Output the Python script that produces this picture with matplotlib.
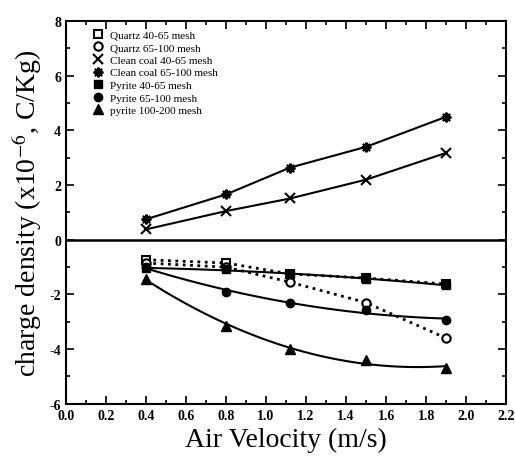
import numpy as np
import matplotlib
matplotlib.use("Agg")
import matplotlib.pyplot as plt
from matplotlib.ticker import MultipleLocator

plt.rcParams['font.family'] = ['Liberation Serif', 'DejaVu Serif']
plt.rcParams['mathtext.fontset'] = 'stix'

# ── Data ───────────────────────────────────────────────
velocity = [0.4, 0.8, 1.12, 1.5, 1.9]

quartz_40_65 = [-0.73, -0.85, -1.25, -1.40, -1.62]
quartz_65_100 = [-0.85, -1.00, -1.55, -2.30, -3.60]
coal_40_65 = [0.38, 1.05, 1.51, 2.20, 3.18]
coal_65_100 = [0.75, 1.66, 2.64, 3.40, 4.50]
pyrite_40_65 = [-1.05, -1.07, -1.25, -1.45, -1.65]
pyrite_65_100 = [-1.00, -1.92, -2.32, -2.58, -2.93]
pyrite_100_200 = [-1.42, -3.15, -4.00, -4.40, -4.68]

labels = ['Quartz 40-65 mesh', 'Quartz 65-100 mesh', 'Clean coal 40-65 mesh',
          'Clean coal 65-100 mesh', 'Pyrite 40-65 mesh', 'Pyrite 65-100 mesh',
          'pyrite 100-200 mesh']

fig = plt.figure(figsize=(5.15, 4.6), dpi=100)
ax = fig.add_axes([0.128, 0.12, 0.855, 0.832])

x = np.array(velocity)
xs = np.linspace(x.min(), x.max(), 100)

# quartz: dotted connecting lines
ax.plot(x, quartz_40_65, ls=':', lw=2, color='black')
ax.plot(x, quartz_65_100, ls=':', lw=2, color='black')
# clean coal: solid segments
ax.plot(x, coal_40_65, ls='-', lw=1.5, color='black')
ax.plot(x, coal_65_100, ls='-', lw=1.5, color='black')
# pyrite: smooth fitted curves
for series in [pyrite_40_65, pyrite_65_100, pyrite_100_200]:
    coef = np.polyfit(x, series, 2)
    ax.plot(xs, np.polyval(coef, xs), ls='-', lw=1.5, color='black')

ms = 6
h1, = ax.plot(x, quartz_40_65, 's', mfc='white', mec='black', mew=1.5, ms=ms, ls='none')
h2, = ax.plot(x, quartz_65_100, 'o', mfc='white', mec='black', mew=1.5, ms=ms, ls='none')
h3, = ax.plot(x, coal_40_65, 'x', color='black', mew=1.5, ms=ms + 1, ls='none')
h4, = ax.plot(x, coal_65_100, marker=(8, 2, 0), color='black', mew=1.5, ms=ms + 1, ls='none')
h5, = ax.plot(x, pyrite_40_65, 's', color='black', ms=ms, ls='none')
h6, = ax.plot(x, pyrite_65_100, 'o', color='black', ms=ms, ls='none')
h7, = ax.plot(x, pyrite_100_200, '^', color='black', ms=ms + 1, ls='none')

ax.axhline(0, color='black', lw=1.8)

ax.set_xlim(0.0, 2.2)
ax.set_ylim(-6, 8)
ax.xaxis.set_major_locator(MultipleLocator(0.2))
ax.xaxis.set_minor_locator(MultipleLocator(0.1))
ax.yaxis.set_major_locator(MultipleLocator(2))
ax.yaxis.set_minor_locator(MultipleLocator(1))
ax.tick_params(which='both', direction='in', top=True, right=True, width=1.2)
ax.tick_params(which='major', length=6, labelsize=10)
ax.tick_params(which='minor', length=3)
ax.set_xticklabels([f'{v:.1f}' for v in ax.get_xticks()], fontweight='bold')
ax.set_yticklabels([f'{int(v)}' for v in ax.get_yticks()], fontweight='bold')
for s in ax.spines.values():
    s.set_linewidth(1.5)

ax.set_xlabel('Air Velocity (m/s)', fontsize=20)
ax.set_ylabel(r'charge density (x10$^{-6}$, C/Kg)', fontsize=20, labelpad=4)

ax.legend([h1, h2, h3, h4, h5, h6, h7], labels, loc='upper left', frameon=False,
          fontsize=8, handlelength=1.0, handletextpad=0.6, labelspacing=0.25,
          borderaxespad=0.4, bbox_to_anchor=(0.04, 1.0))

fig.savefig('out.png', dpi=100)
